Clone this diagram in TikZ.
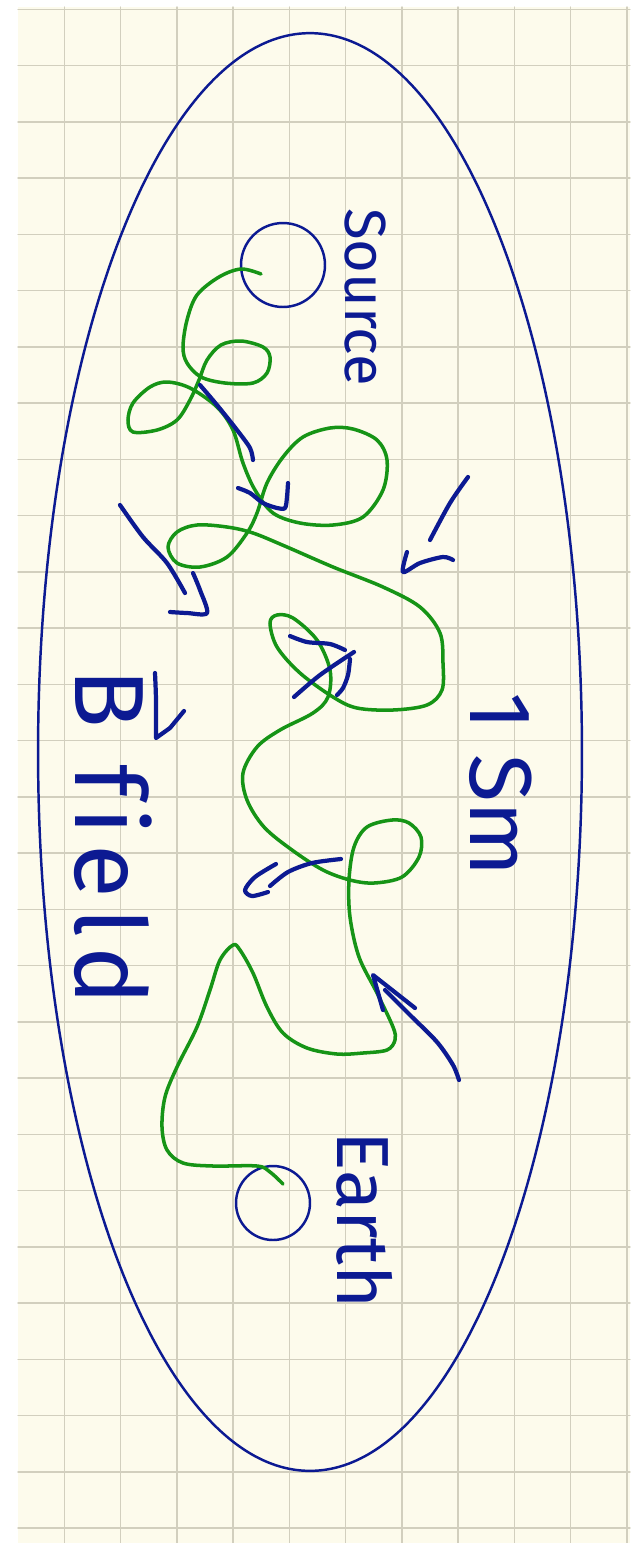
\documentclass[tikz,border=0pt]{standalone}
\usepackage{fontspec}
\usetikzlibrary{shapes.geometric}
\newfontfamily\hand{Fira Sans}
\newfontfamily\handwide[LetterSpace=10,Ligatures=NoCommon]{Fira Sans}
\definecolor{paper}{RGB}{253,251,236}
\definecolor{gridc}{RGB}{210,207,190}
\definecolor{inkblue}{RGB}{12,26,146}
\definecolor{inkgreen}{RGB}{22,148,22}
\begin{document}
\begin{tikzpicture}[x=0.02cm,y=-0.02cm,line cap=round,line join=round,
  gridline/.style={draw=gridc,line width=0.8pt},
  outline/.style={draw=inkblue,line width=1.4pt},
  body/.style={circle,draw=inkblue,line width=1.4pt,inner sep=0pt},
  trail/.style={draw=inkgreen,line width=2pt},
  ink/.style={draw=inkblue,line width=2.4pt},
  handtext/.style={text=inkblue,inner sep=0pt,anchor=base,rotate=-90}]
\useasboundingbox (0,0) rectangle (630,1543);
\fill[paper] (18,7) rectangle (630,1543);
\foreach \i in {0,...,10} \draw[gridline] ({64.3+56.25*\i},7) -- ({64.3+56.25*\i},1543);
\foreach \j in {0,...,27} \draw[gridline] (18,{9.3+56.25*\j}) -- (630,{9.3+56.25*\j});

% region
\node[ellipse,outline,inner sep=0pt,minimum width=10.88cm,minimum height=28.76cm] (region) at (310,752) {};
% source and earth
\node[body,minimum size=1.68cm] (src) at (283,265) {};
\node[body,minimum size=1.48cm] (earth) at (273,1203) {};

% particle trail
\draw[trail] plot[smooth,tension=0.55] coordinates {
(261,274) (241,269) (219,277) (197,295) (187,320) (183,347) (187,363) (201,377)
(225,383) (253,383) (267,373) (270,357) (263,347) (241,341) (221,345) (207,360)
(199,380) (190,400) (177,420) (157,430) (133,432) (128,420) (133,403) (150,387)
(167,382) (190,388) (217,407) (233,430) (243,463) (255,490) (273,513) (300,523)
(333,525) (363,517) (383,490) (387,460) (377,440) (353,429) (330,428) (303,437)
(283,457) (267,483) (257,513) (247,533) (227,557) (200,567) (177,563) (168,547)
(177,532) (197,525) (227,527) (253,533) (287,547) (333,567) (383,587) (420,607)
(440,633) (443,663) (442,690) (427,705) (393,710) (357,708) (333,697) (300,673)
(277,647) (270,623) (277,615) (293,618) (317,640) (330,670) (328,697) (313,713)
(280,730) (257,747) (243,773) (247,800) (264,827) (292,850) (323,870) (350,880)
(374,883) (402,877) (419,857) (421,837) (409,823) (392,820) (367,827) (354,847)
(349,880) (350,917) (359,957) (377,993) (393,1027) (395,1040) (387,1050) (363,1053)
(337,1054) (307,1048) (283,1033) (267,1007) (253,973) (240,950) (233,945) (220,960)
(210,990) (197,1027) (177,1067) (165,1097) (162,1127) (167,1150) (183,1163) (213,1166)
(257,1166) (270,1172) (283,1184)};

% field arrows
\draw[ink] plot[smooth] coordinates {(200,385) (217,405) (237,430) (250,448) (253,460)};
\draw[ink] plot[smooth] coordinates {(238,488) (250,493) (263,503) (277,508) (285,508) (287,497) (288,483)};
\draw[ink] plot[smooth] coordinates {(120,505) (143,537) (167,563) (185,593)};
\draw[ink] plot[smooth] coordinates {(193,573) (200,590) (207,613) (187,613) (170,612)};
\draw[ink] plot[smooth] coordinates {(468,477) (450,503) (430,540)};
\draw[ink] plot[smooth] coordinates {(407,552) (403,572) (420,563) (443,557) (453,560)};
\draw[ink] plot[smooth] coordinates {(290,636) (307,642) (330,644) (345,650)};
\draw[ink] plot[smooth] coordinates {(350,659) (348,675) (343,688) (337,695)};
\draw[ink] plot[smooth] coordinates {(294,697) (320,675) (354,652)};
\draw[ink] plot[smooth] coordinates {(341,859) (312,863) (288,872) (270,886)};
\draw[ink] plot[smooth] coordinates {(276,864) (255,877) (245,890) (252,896) (268,892)};
\draw[ink] (383,1010) -- (373,975) -- (415,1008);
\draw[ink] plot[smooth] coordinates {(385,990) (410,1015) (437,1042) (453,1065) (459,1080)};

% labels
\node[handtext,font=\hand\fontsize{33}{33}\selectfont] (lsrc) at (345,297) {Source};
\node[handtext,font=\hand\fontsize{42}{42}\selectfont] (learth) at (337,1220) {Earth};
\node[handtext,font=\hand\fontsize{50}{50}\selectfont] (ldist) at (470,785) {1 Sm};
\node[handtext,font=\handwide\fontsize{56}{56}\selectfont] (lfield) at (75,837) {B field};
% vector arrow over B
\draw[ink] plot[smooth] coordinates {(155,673) (156,700) (156,738)} -- (170,728) -- (184,711);
\end{tikzpicture}
\end{document}
